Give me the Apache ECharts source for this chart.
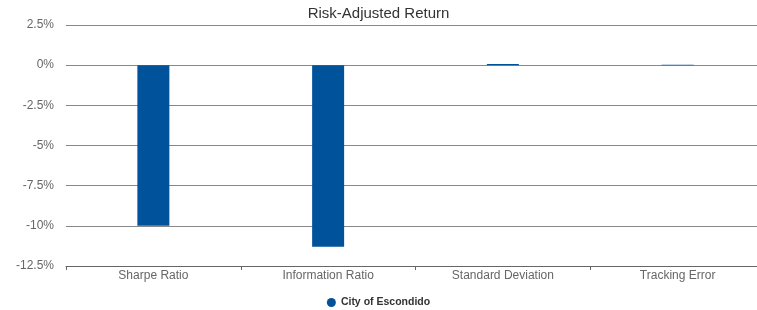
<!DOCTYPE html>
<html><head><meta charset="utf-8">
<script src="https://cdn.jsdelivr.net/npm/echarts@6/dist/echarts.min.js"></script>
<style>html,body{margin:0;padding:0;background:#fff}#c{width:757px;height:310px}</style>
</head><body><div id="c"></div>
<script>
const categories = ["Sharpe Ratio", "Information Ratio", "Standard Deviation", "Tracking Error"];
const seriesName = "City of Escondido";
const values = [-10.0, -11.3, 0.07, 0.03];
const yTicks = [2.5, 0, -2.5, -5, -7.5, -10, -12.5];

const chart = echarts.init(document.getElementById('c'), null, {renderer: 'canvas'});
chart.setOption({
  animation: false,
  textStyle: {fontFamily: 'Liberation Sans, Arial, sans-serif'},
  title: {text: 'Risk-Adjusted Return', left: 'center', top: 6, padding: 0,
    textStyle: {fontSize: 15, fontWeight: 'normal', color: '#333', fontFamily: 'Liberation Sans, Arial, sans-serif'}},
  legend: {data: [seriesName], top: 297, left: 'center', padding: 0, icon: 'circle', itemWidth: 9, itemHeight: 9, itemGap: 6,
    textStyle: {fontSize: 10.5, fontWeight: 'bold', color: '#333'}},
  grid: {left: 66, width: 699, top: 25, bottom: 44, containLabel: false, outerBoundsMode: 'none'},
  xAxis: {type: 'category', data: categories,
    axisLine: {show: true, onZero: false, lineStyle: {color: '#666'}},
    axisTick: {show: true, length: 4, lineStyle: {color: '#666'}},
    axisLabel: {color: '#666', fontSize: 12, margin: 4}},
  yAxis: {type: 'value', min: -12.5, max: 2.5, interval: 2.5,
    axisLine: {show: false}, axisTick: {show: false},
    axisLabel: {color: '#666', fontSize: 12, margin: 12, formatter: v => v + '%'},
    splitLine: {lineStyle: {color: '#888'}}},
  series: [{name: seriesName, type: 'bar', data: values, barWidth: 32,
    itemStyle: {color: '#00539b'}}]
});
</script></body></html>
